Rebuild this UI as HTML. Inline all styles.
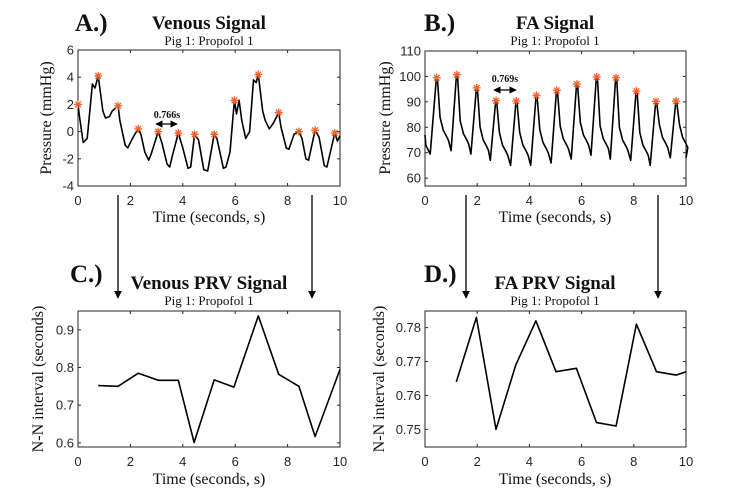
<!DOCTYPE html>
<html><head><meta charset="utf-8"><style>
html,body{margin:0;padding:0;background:#fff;}
svg{display:block;}
.t{font-family:"Liberation Sans",Arial,sans-serif;font-size:13px;fill:#262626;}
.s{font-family:"Liberation Serif",serif;fill:#111;}
</style></head><body>
<svg id="sv" width="736" height="490" viewBox="0 0 736 490" xmlns="http://www.w3.org/2000/svg">
<defs><marker id="ah" viewBox="0 0 10 10" refX="9" refY="5" markerWidth="6" markerHeight="6" orient="auto-start-reverse"><path d="M0,0L10,5L0,10z" fill="#000"/></marker></defs>
<text x="75" y="31" class="s" font-size="25" font-weight="bold">A.)</text>
<text x="209" y="29" class="s" font-size="19" font-weight="bold" text-anchor="middle">Venous Signal</text>
<text x="209" y="45" class="s" font-size="13" text-anchor="middle">Pig 1: Propofol 1</text>
<text x="424" y="31" class="s" font-size="25" font-weight="bold">B.)</text>
<text x="555" y="29" class="s" font-size="19" font-weight="bold" text-anchor="middle">FA Signal</text>
<text x="555" y="45" class="s" font-size="13" text-anchor="middle">Pig 1: Propofol 1</text>
<text x="70" y="282" class="s" font-size="25" font-weight="bold">C.)</text>
<text x="209" y="289" class="s" font-size="19" font-weight="bold" text-anchor="middle">Venous PRV Signal</text>
<text x="209" y="305" class="s" font-size="13" text-anchor="middle">Pig 1: Propofol 1</text>
<text x="424" y="282" class="s" font-size="25" font-weight="bold">D.)</text>
<text x="555" y="289" class="s" font-size="19" font-weight="bold" text-anchor="middle">FA PRV Signal</text>
<text x="555" y="305" class="s" font-size="13" text-anchor="middle">Pig 1: Propofol 1</text>
<text x="209" y="222" class="s" font-size="16" text-anchor="middle">Time (seconds, s)</text>
<text x="555" y="222" class="s" font-size="16" text-anchor="middle">Time (seconds, s)</text>
<text x="209" y="484" class="s" font-size="16" text-anchor="middle">Time (seconds, s)</text>
<text x="555" y="484" class="s" font-size="16" text-anchor="middle">Time (seconds, s)</text>
<text transform="translate(51,118) rotate(-90)" class="s" font-size="16" text-anchor="middle">Pressure (mmHg)</text>
<text transform="translate(390,118) rotate(-90)" class="s" font-size="16" text-anchor="middle">Pressure (mmHg)</text>
<text transform="translate(43,379) rotate(-90)" class="s" font-size="16" text-anchor="middle">N-N interval (seconds)</text>
<text transform="translate(384,379) rotate(-90)" class="s" font-size="16" text-anchor="middle">N-N interval (seconds)</text>
<g stroke="#000" stroke-width="1.3" marker-end="url(#ah)">
<line x1="118" y1="195" x2="118" y2="298"/>
<line x1="312" y1="195" x2="312" y2="298"/>
<line x1="466" y1="195" x2="466" y2="298"/>
<line x1="658" y1="195" x2="658" y2="298"/>
</g>
<g stroke="#000" stroke-width="1.2" marker-start="url(#ah)" marker-end="url(#ah)">
<line x1="156" y1="124" x2="177" y2="124"/>
<line x1="494" y1="90" x2="516" y2="90"/>
</g>
<text x="167" y="118" class="s" font-size="10" font-weight="bold" text-anchor="middle">0.766s</text>
<text x="505" y="82" class="s" font-size="10" font-weight="bold" text-anchor="middle">0.769s</text>
<g id="dyn"></g>
</svg>
<script>
var NS="http://www.w3.org/2000/svg",g=document.getElementById('dyn');
function el(t,a,txt){var e=document.createElementNS(NS,t);for(var k in a)e.setAttribute(k,a[k]);if(txt!=null)e.textContent=txt;g.appendChild(e);return e;}
function axes(x0,x1,y0,y1,ymin,ymax,yt,yfmt){
 var X=function(v){return x0+(x1-x0)*v/10},Y=function(v){return y1-(y1-y0)*(v-ymin)/(ymax-ymin)};
 el('rect',{x:x0,y:y0,width:x1-x0,height:y1-y0,fill:'none',stroke:'#262626','stroke-width':1});
 for(var i=0;i<=10;i+=2){var x=X(i);el('line',{x1:x,x2:x,y1:y1,y2:y1-3,stroke:'#262626'});el('line',{x1:x,x2:x,y1:y0,y2:y0+3,stroke:'#262626'});el('text',{x:x,y:y1+19,'class':'t','text-anchor':'middle'},String(i));}
 yt.forEach(function(v){var y=Y(v);el('line',{x1:x0,x2:x0+3,y1:y,y2:y,stroke:'#262626'});el('line',{x1:x1,x2:x1-3,y1:y,y2:y,stroke:'#262626'});el('text',{x:x0-4,y:y+4.5,'class':'t','text-anchor':'end'},yfmt(v));});
 return [X,Y];
}
function line(m,pts){el('polyline',{points:pts.map(function(p){return m[0](p[0]).toFixed(1)+','+m[1](p[1]).toFixed(1)}).join(' '),fill:'none',stroke:'#000','stroke-width':1.6,'stroke-linejoin':'round'});}
function star(x,y){var c='#f0602a';for(var a=0;a<4;a++){var r=a*Math.PI/4;el('line',{x1:x-4*Math.cos(r),y1:y-4*Math.sin(r),x2:x+4*Math.cos(r),y2:y+4*Math.sin(r),stroke:c,'stroke-width':1.3});}}
var A=axes(78,340,50,186,-4,6,[-4,-2,0,2,4,6],String);
var va=[[0,2],[0.05,1.2],[0.2,-0.8],[0.35,-0.5],[0.55,3.5],[0.65,3.2],[0.77,4.1],[0.95,1.5],[1.05,1],[1.2,1.1],[1.3,1.5],[1.53,1.9],[1.6,0.8],[1.8,-1],[1.9,-1.2],[2.05,-0.6],[2.2,-0.1],[2.3,0.2],[2.4,-0.2],[2.55,-1.5],[2.7,-2.1],[2.8,-1.6],[3.06,0],[3.2,-0.8],[3.4,-2.4],[3.5,-2.6],[3.6,-1.8],[3.83,-0.1],[4,-1.2],[4.2,-2.7],[4.3,-2.6],[4.45,-0.2],[4.6,-0.6],[4.8,-2.8],[4.95,-2.9],[5.2,-0.2],[5.3,-0.5],[5.55,-2.7],[5.65,-2.6],[5.8,-1.5],[5.97,2.3],[6.05,1.3],[6.15,2.3],[6.25,0.8],[6.4,-0.5],[6.55,0],[6.7,3.8],[6.8,3.6],[6.88,4.2],[7.05,1.5],[7.15,0.8],[7.3,0.2],[7.45,0.6],[7.66,1.4],[7.75,0.3],[7.95,-1.2],[8.05,-1.3],[8.25,-0.2],[8.43,0],[8.55,-0.5],[8.7,-2],[8.8,-2.1],[9.05,0.1],[9.2,-0.4],[9.4,-2.5],[9.5,-2.6],[9.8,-0.1],[9.9,-0.7],[10,-0.3]];
line(A,va);
[[0,2],[0.77,4.1],[1.53,1.9],[2.3,0.2],[3.06,0],[3.83,-0.1],[4.45,-0.2],[5.2,-0.2],[5.97,2.3],[6.88,4.2],[7.66,1.4],[8.43,0],[9.05,0.1],[9.8,-0.1]].forEach(function(p){star(A[0](p[0]),A[1](p[1]));});
var B=axes(425,686,51,186,56.9,110,[60,70,80,90,100,110],String);
var pk=[[0.45,99.5],[1.22,100.7],[1.98,95.5],[2.72,90.5],[3.5,90.3],[4.27,92.5],[5.05,94.5],[5.82,97],[6.58,99.8],[7.32,99.5],[8.1,94.2],[8.85,90.2],[9.62,90.3]];
var tr=[69.5,70.8,69.5,67,65,65,66,67.5,69,67.5,67,65,68];
var fb=[[0,77],[0.03,73],[0.2,69.5]];
for(var i=0;i<pk.length;i++){var t=pk[i][0],p=pk[i][1],last=i==pk.length-1,nt=last?68:tr[i+1];
 var tt=last?10:pk[i+1][0]-0.22;
 fb.push([t-0.02,p-1]);fb.push([t,p]);fb.push([t+0.03,p-1]);
 fb.push([t+0.13,nt+13]);fb.push([t+0.25,nt+8]);fb.push([t+0.38,nt+5.5]);fb.push([t+0.45,nt+4]);fb.push([tt,nt]);}
line(B,fb);
pk.forEach(function(p){star(B[0](p[0]),B[1](p[1]));});
var C=axes(78,340,311,447,0.589,0.95,[0.6,0.7,0.8,0.9],function(v){return v.toFixed(1)});
line(C,[[0.77,0.752],[1.53,0.75],[2.3,0.785],[3.06,0.766],[3.83,0.766],[4.43,0.601],[5.2,0.767],[5.95,0.748],[6.88,0.937],[7.66,0.782],[8.43,0.75],[9.05,0.617],[10,0.795]]);
var D=axes(425,686,311,447,0.7448,0.7849,[0.75,0.76,0.77,0.78],function(v){return v.toFixed(2)});
line(D,[[1.2,0.764],[1.97,0.783],[2.72,0.75],[3.48,0.769],[4.25,0.782],[5.02,0.767],[5.8,0.768],[6.57,0.752],[7.32,0.751],[8.1,0.781],[8.87,0.767],[9.62,0.766],[10,0.767]]);
</script>
</body></html>
